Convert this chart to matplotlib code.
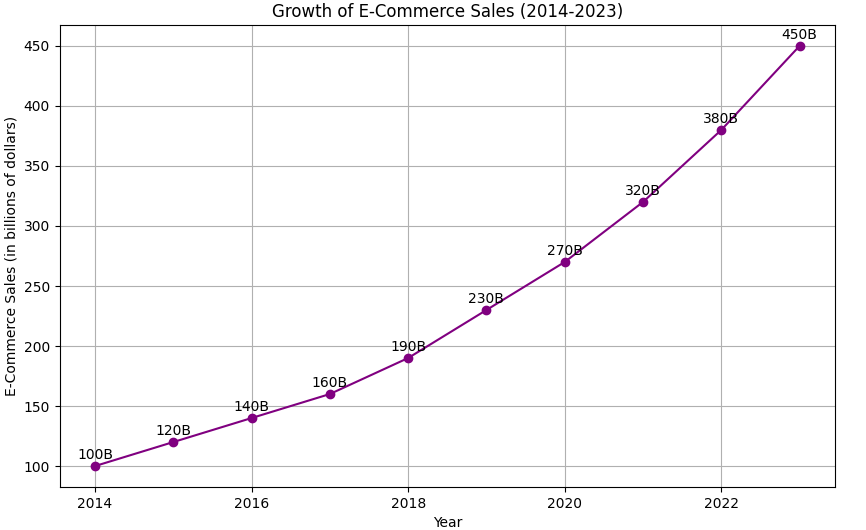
import matplotlib
matplotlib.use("Agg")
import matplotlib.pyplot as plt

years = [2014, 2015, 2016, 2017, 2018, 2019, 2020, 2021, 2022, 2023]
sales = [100, 120, 140, 160, 190, 230, 270, 320, 380, 450]
labels = [f"{v}B" for v in sales]

fig, ax = plt.subplots(figsize=(8.66, 5.3), dpi=100)
ax.plot(years, sales, marker="o", color="purple")
for x, y, lab in zip(years, sales, labels):
    ax.annotate(lab, (x, y), textcoords="offset points", xytext=(0, 5), ha="center")

ax.set_title("Growth of E-Commerce Sales (2014-2023)")
ax.set_xlabel("Year")
ax.set_ylabel("E-Commerce Sales (in billions of dollars)")
ax.grid(True)

fig.subplots_adjust(left=0.069, right=0.964, top=0.953, bottom=0.081)
fig.savefig("out.png", dpi=100)
